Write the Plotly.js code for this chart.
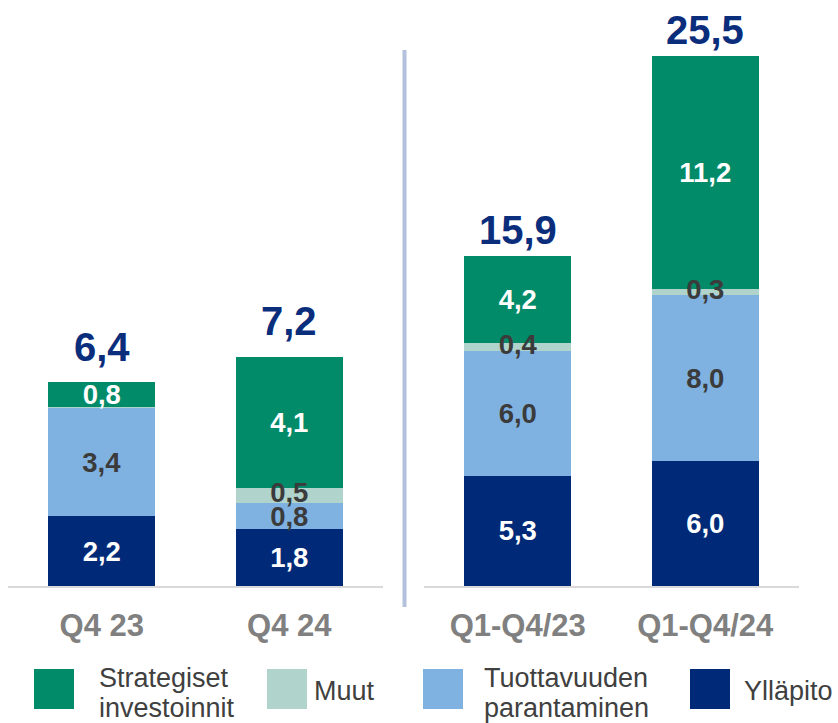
<!DOCTYPE html>
<html>
<head>
<meta charset="utf-8">
<script src="https://cdn.plot.ly/plotly-3.0.1.min.js"></script>
<style>html,body{margin:0;padding:0;background:#fff;}#chart{width:838px;height:723px;}</style>
</head>
<body>
<div id="chart"></div>
<script>
// ---- Data ----
const periodsLeft = ['Q4 23', 'Q4 24'];
const periodsRight = ['Q1-Q4/23', 'Q1-Q4/24'];
const seriesNames = ['Ylläpito', 'Tuottavuuden<br>parantaminen', 'Muut', 'Strategiset<br>investoinnit'];
// values per period: [Q4 23, Q4 24, Q1-Q4/23, Q1-Q4/24]
const yllapito     = [2.2, 1.8, 5.3, 6.0];
const tuottavuus   = [3.4, 0.8, 6.0, 8.0];
const muut         = [0.04, 0.5, 0.4, 0.3];
const strategiset  = [0.8, 4.1, 4.2, 11.2];
const totals       = [6.4, 7.2, 15.9, 25.5];
const showLabel = {
  yllapito: [true, true, true, true],
  tuottavuus: [true, true, true, true],
  muut: [false, true, true, true],
  strategiset: [true, true, true, true]
};

// ---- Styles ----
const FONT = 'Liberation Sans, Arial, Helvetica, sans-serif';
const colors = {
  yllapito: '#002a78',
  tuottavuus: '#7fb2e1',
  muut: '#b0d4cc',
  strategiset: '#028b69'
};
const labelColors = {
  yllapito: '#ffffff',
  tuottavuus: '#3b3b3b',
  muut: '#3b3b3b',
  strategiset: '#ffffff'
};
const SEG_FONT = 27.5;
const W = 838, H = 723;
const plotBottomPx = 586;

function fmt(v) { return v.toFixed(1).replace('.', ','); }

const seriesDefs = [
  {key: 'yllapito', vals: yllapito, name: seriesNames[0]},
  {key: 'tuottavuus', vals: tuottavuus, name: seriesNames[1]},
  {key: 'muut', vals: muut, name: seriesNames[2]},
  {key: 'strategiset', vals: strategiset, name: seriesNames[3]}
];

const panels = [[0, periodsLeft, 'x', 'y'], [2, periodsRight, 'x2', 'y2']];
const traces = [];
seriesDefs.forEach(s => {
  panels.forEach(([off, cats, xa, ya]) => {
    const vals = s.vals.slice(off, off + 2);
    // thin "Muut" segments get their labels from a text layer drawn on top (below)
    const txt = vals.map((v, i) => (s.key !== 'muut' && showLabel[s.key][off + i]) ? fmt(v) : '');
    traces.push({
      type: 'bar',
      x: cats,
      y: vals,
      xaxis: xa,
      yaxis: ya,
      name: s.name,
      showlegend: false,
      marker: {color: colors[s.key], line: {width: 0}},
      text: txt,
      textposition: 'inside',
      insidetextanchor: 'middle',
      textangle: 0,
      constraintext: 'none',
      cliponaxis: false,
      textfont: {family: FONT, size: SEG_FONT, weight: 'bold', color: labelColors[s.key]},
      hoverinfo: 'x+y+name'
    });
  });
});

// Muut labels on top of the neighbouring segments
panels.forEach(([off, cats, xa, ya]) => {
  const mids = [0, 1].map(i => yllapito[off + i] + tuottavuus[off + i] + muut[off + i] / 2);
  const txt = [0, 1].map(i => showLabel.muut[off + i] ? fmt(muut[off + i]) : '');
  traces.push({
    type: 'scatter', mode: 'text', x: cats, y: mids, xaxis: xa, yaxis: ya,
    text: txt, textposition: 'middle center', showlegend: false, hoverinfo: 'skip',
    cliponaxis: false,
    textfont: {family: FONT, size: SEG_FONT, weight: 'bold', color: labelColors.muut}
  });
});

const annotations = [];
// totals
periodsLeft.forEach((c, i) => annotations.push({
  x: c, y: totals[i], xref: 'x', yref: 'y', text: fmt(totals[i]),
  showarrow: false, yanchor: 'bottom', yshift: 12,
  font: {family: FONT, size: 40, weight: 'bold', color: '#0a2d7c'}
}));
periodsRight.forEach((c, i) => annotations.push({
  x: c, y: totals[i + 2], xref: 'x2', yref: 'y2', text: fmt(totals[i + 2]),
  showarrow: false, yanchor: 'bottom', yshift: 2,
  font: {family: FONT, size: 40, weight: 'bold', color: '#0a2d7c'}
}));

// manual legend (large swatches, tight line spacing as in reference)
const legendOrder = ['strategiset', 'muut', 'tuottavuus', 'yllapito'];
const legendNames = {
  strategiset: seriesNames[3], muut: seriesNames[2], tuottavuus: seriesNames[1], yllapito: seriesNames[0]
};
const legendSwatchX = [34, 267, 423, 690];
const legendTextX = [97, 312, 482, 742];
const swatchTop = 669, swatchSize = 40;
const shapes = [];
legendOrder.forEach((k, i) => {
  shapes.push({
    type: 'rect', xref: 'paper', yref: 'paper',
    x0: legendSwatchX[i] / W, x1: (legendSwatchX[i] + swatchSize) / W,
    y0: 1 - (swatchTop + swatchSize) / H, y1: 1 - swatchTop / H,
    fillcolor: colors[k], line: {width: 0}
  });
  const lines = legendNames[k].split('<br>');
  const centers = lines.length === 2 ? [678, 708] : [691];
  lines.forEach((ln, j) => annotations.push({
    x: legendTextX[i] / W, y: 1 - centers[j] / H, xref: 'paper', yref: 'paper',
    xanchor: 'left', yanchor: 'middle', text: ln, showarrow: false,
    font: {family: FONT, size: 27, color: '#404040'}
  }));
});

// separator
shapes.push({
  type: 'line', xref: 'paper', yref: 'paper',
  x0: 404.5 / W, x1: 404.5 / W, y0: 1 - 607 / H, y1: 1 - 50 / H,
  line: {color: '#b4c1dc', width: 4}
});

const xCommon = {
  type: 'category', showline: true, linecolor: '#d9d9d9', linewidth: 2,
  ticks: '', showgrid: false, zeroline: false, automargin: false,
  tickfont: {family: FONT, size: 31, weight: 'bold', color: '#808080'},
  ticklabelstandoff: 11, fixedrange: true
};
const yCommon = {
  visible: false, showgrid: false, zeroline: false, automargin: false,
  domain: [1 - plotBottomPx / H, 1], fixedrange: true
};

const layout = {
  width: W, height: H,
  margin: {l: 0, r: 0, t: 0, b: 0},
  paper_bgcolor: '#ffffff', plot_bgcolor: '#ffffff',
  barmode: 'stack', bargap: 0.43,
  separators: ', ',
  showlegend: false,
  font: {family: FONT},
  xaxis: Object.assign({}, xCommon, {domain: [8 / W, 383 / W], anchor: 'y'}),
  xaxis2: Object.assign({}, xCommon, {domain: [424 / W, 799 / W], anchor: 'y2'}),
  yaxis: Object.assign({}, yCommon, {range: [0, plotBottomPx / 31.75], anchor: 'x'}),
  yaxis2: Object.assign({}, yCommon, {range: [0, plotBottomPx / 20.78], anchor: 'x2'}),
  annotations: annotations,
  shapes: shapes
};

Plotly.newPlot('chart', traces, layout, {displayModeBar: false, staticPlot: true});
</script>
</body>
</html>
